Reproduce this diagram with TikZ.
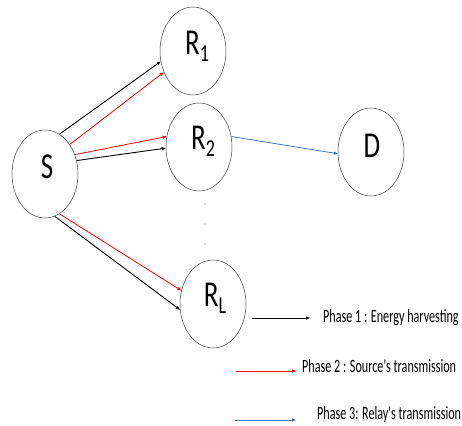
\documentclass[tikz,border=0pt]{standalone}
\usepackage{fontspec}
\setmainfont{Carlito}
\usepackage{graphicx}
\usetikzlibrary{shapes.geometric,arrows.meta}
\definecolor{myblue}{RGB}{68,114,196}
\newcommand{\vst}[1]{\scalebox{1}[1.35]{#1}}
\newcommand{\vsl}[1]{\scalebox{0.97}[1.5]{#1}}
\newcommand{\sub}[1]{\raisebox{-5pt}{\fontsize{18}{18}\selectfont #1}}
\tikzset{
  nd/.style={draw=black!75, line width=0.5pt, ellipse, minimum width=66pt, minimum height=88pt, inner sep=0pt},
  lab/.style={font=\fontsize{27}{27}\selectfont},
  tip/.style={-{Triangle[length=4pt,width=3pt]}},
  blk/.style={tip, draw=black, line width=0.9pt},
  rd/.style={tip, draw=red, line width=0.8pt},
  bl/.style={tip, draw=myblue, line width=0.8pt},
  leg/.style={anchor=west, inner sep=0pt, font=\fontsize{12.5}{12.5}\selectfont}
}
\begin{document}
\begin{tikzpicture}[x=1pt,y=-1pt]
\useasboundingbox (0,0) rectangle (462,425);
\node[nd] (S) at (45,174) {};
\node[nd] (R1) at (193,51) {};
\node[nd] (R2) at (199,147) {};
\node[nd] (D) at (371,152) {};
\node[nd] (RL) at (213,304) {};
\node[lab] (tS) at (47,167) {\vst{S}};
\node[lab] (tR1) at (197,46) {\vst{R\sub{1}}};
\node[lab] (tR2) at (203,141) {\vst{R\sub{2}}};
\node[lab] (tD) at (372,146) {\vst{D}};
\node[lab] (tRL) at (215,298) {\vst{R\sub{L}}};
\foreach \yy/\nn in {204/a,224/b,244/c}
  \fill[black!70] (205,\yy) circle (0.6pt) coordinate (dot\nn);
\draw[blk] (S.70) -- (R1.198);
\draw[rd] (S.50) -- (R1.216);
\draw[rd] (S.33) -- (R2.162);
\draw[blk] (S.23) -- (R2.182);
\draw[rd] (S.-70) -- (RL.157);
\draw[blk] (S.-77) -- (RL.190);
\draw[bl] (R2.18) -- (D.183);
\coordinate (l1a) at (252,318);
\coordinate (l1b) at (310,318);
\coordinate (l2a) at (236,371);
\coordinate (l2b) at (296,371);
\coordinate (l3a) at (235,420);
\coordinate (l3b) at (296,420);
\draw[blk] (l1a) -- (l1b);
\draw[rd] (l2a) -- (l2b);
\draw[bl] (l3a) -- (l3b);
\node[leg] (p1) at (323,318) {\vsl{Phase 1 : Energy harvesting}};
\node[leg] (p2) at (302,366) {\vsl{Phase 2 : Source\textquotesingle s transmission}};
\node[leg] (p3) at (317,414) {\vsl{Phase 3: Relay\textquotesingle s transmission}};
\end{tikzpicture}
\end{document}
